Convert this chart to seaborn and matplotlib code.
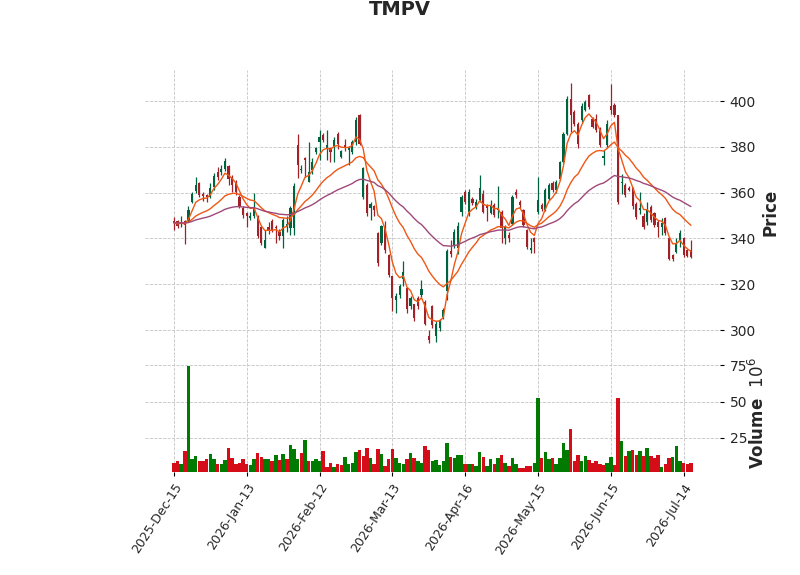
import numpy as np
import pandas as pd
import matplotlib
matplotlib.use("Agg")
import matplotlib.pyplot as plt
import seaborn as sns
from matplotlib.ticker import MultipleLocator

# ------------------------------------------------------------------
# DATA (prices in $, volume in millions)
# ------------------------------------------------------------------
ticker = "TMPV"
tick_labels = ["2025-Dec-15", "2026-Jan-13", "2026-Feb-12", "2026-Mar-13",
               "2026-Apr-16", "2026-May-15", "2026-Jun-15", "2026-Jul-14"]

opens = [347.5, 347.4, 346.2, 347.4, 347.8, 356.0, 360.7, 364.0, 359.4, 358.8,
         358.3, 362.3, 369.1, 368.8, 370.1, 371.6, 367.0, 364.0, 358.3, 353.2,
         351.0, 348.8, 349.6, 349.6, 345.2, 335.8, 345.2, 347.4, 345.2, 343.0,
         340.9, 345.2, 344.5, 344.5, 381.0, 370.0, 375.2, 364.8, 369.9, 377.8,
         382.2, 385.0, 379.3, 379.3, 380.0, 385.5, 375.7, 380.7, 378.6, 377.8,
         382.2, 393.8, 358.3, 363.3, 353.2, 354.2, 342.3, 338.0, 345.2, 332.6,
         323.5, 313.3, 315.5, 322.3, 318.4, 310.4, 311.2, 314.1, 315.2, 312.3,
         297.5, 310.4, 297.3, 300.7, 305.8, 317.0, 334.6, 337.0, 335.7, 351.7,
         360.4, 351.7, 357.2, 353.8, 356.7, 359.6, 354.6, 351.0, 354.6, 352.5,
         351.7, 340.0, 341.7, 346.5, 360.3, 355.7, 352.3, 343.6, 334.9, 340.0,
         351.6, 354.8, 352.6, 357.4, 364.0, 361.0, 366.0, 373.4, 385.8, 401.0,
         395.2, 390.0, 391.6, 396.0, 402.5, 392.3, 392.0, 388.0, 374.9, 380.7,
         398.0, 398.4, 393.8, 364.0, 363.5, 362.2, 361.8, 355.2, 352.3, 350.0,
         347.2, 353.8, 350.9, 347.2, 345.0, 348.7, 340.0, 332.7, 334.2, 339.2,
         340.0, 335.0, 334.9]

highs = [349.5, 348.0, 349.8, 348.0, 354.0, 360.4, 366.7, 364.8, 360.4, 359.5,
         364.0, 368.5, 371.0, 372.0, 374.9, 372.0, 367.7, 365.5, 359.0, 354.0,
         351.7, 351.7, 359.7, 350.3, 345.5, 343.8, 347.0, 348.4, 346.0, 344.0,
         349.0, 349.6, 354.0, 364.3, 385.8, 372.0, 375.7, 382.2, 375.0, 380.0,
         387.2, 386.0, 387.5, 380.0, 384.3, 386.5, 378.8, 383.6, 380.5, 383.0,
         393.0, 394.5, 371.0, 364.0, 356.1, 354.6, 343.0, 346.0, 347.4, 333.0,
         323.5, 316.2, 320.0, 330.0, 319.0, 315.0, 311.5, 315.0, 322.0, 313.0,
         300.0, 311.0, 304.0, 305.0, 309.5, 335.5, 339.3, 344.0, 347.0, 359.0,
         361.0, 361.5, 358.0, 357.0, 367.6, 361.0, 355.0, 356.7, 355.5, 362.9,
         352.5, 346.0, 343.0, 359.0, 361.7, 356.7, 353.0, 344.0, 340.0, 340.5,
         366.9, 355.5, 362.0, 364.0, 365.0, 365.5, 374.0, 386.5, 402.0, 407.8,
         396.0, 391.0, 399.0, 400.5, 403.2, 393.0, 394.5, 388.5, 378.5, 391.5,
         407.6, 399.0, 394.0, 368.3, 364.0, 362.8, 362.5, 356.0, 360.3, 351.0,
         356.0, 354.5, 351.5, 348.0, 348.7, 349.4, 340.5, 333.2, 340.0, 343.7,
         340.5, 335.5, 339.4]

lows = [343.5, 344.5, 344.8, 337.5, 347.0, 355.4, 359.7, 358.3, 356.5, 356.0,
        357.5, 361.0, 365.5, 367.5, 369.6, 363.3, 360.4, 359.0, 353.2, 348.8,
        345.2, 348.1, 349.0, 340.1, 337.2, 335.8, 342.0, 342.6, 338.0, 339.5,
        335.8, 343.0, 341.6, 341.6, 366.2, 368.7, 367.0, 364.8, 368.0, 377.0,
        374.2, 382.0, 374.2, 373.5, 373.5, 379.0, 375.0, 378.0, 372.0, 377.0,
        381.0, 380.7, 357.0, 350.0, 348.1, 349.6, 328.0, 337.0, 333.6, 323.0,
        308.3, 307.5, 314.0, 319.1, 307.5, 309.0, 303.9, 309.0, 314.5, 302.0,
        294.3, 301.0, 294.8, 299.5, 305.0, 313.0, 332.0, 336.0, 333.0, 350.0,
        355.0, 350.0, 354.5, 353.0, 356.0, 351.0, 347.8, 350.5, 349.5, 349.0,
        337.9, 337.5, 338.5, 346.0, 357.5, 353.2, 345.0, 335.5, 333.5, 333.6,
        350.8, 352.0, 352.0, 356.7, 360.3, 360.0, 365.5, 373.0, 385.0, 386.4,
        389.0, 379.3, 391.0, 395.5, 396.5, 388.0, 386.5, 380.0, 372.0, 380.0,
        394.5, 393.0, 355.2, 359.6, 358.0, 360.5, 353.0, 348.5, 350.5, 344.2,
        345.7, 347.2, 345.0, 340.7, 341.6, 341.5, 330.6, 330.3, 333.5, 336.3,
        332.0, 332.0, 331.5]

closes = [346.8, 345.5, 347.2, 345.7, 352.5, 359.3, 363.3, 359.0, 358.6, 358.0,
          361.9, 367.4, 367.0, 370.3, 373.8, 365.8, 363.3, 360.4, 353.9, 350.3,
          349.6, 349.8, 353.9, 340.9, 338.0, 339.4, 343.8, 343.5, 344.5, 340.9,
          348.1, 346.5, 353.2, 362.9, 372.0, 370.5, 374.1, 369.1, 373.5, 379.3,
          384.3, 382.9, 380.7, 377.8, 382.9, 381.4, 378.3, 379.3, 380.0, 382.2,
          391.6, 381.4, 370.6, 351.0, 355.1, 352.2, 329.3, 345.5, 335.1, 324.2,
          314.1, 314.8, 319.1, 325.2, 309.0, 314.1, 305.4, 310.4, 317.7, 302.8,
          295.8, 302.0, 302.8, 304.3, 308.7, 334.5, 333.0, 343.0, 345.4, 358.0,
          356.0, 360.4, 355.6, 356.0, 361.8, 351.7, 353.2, 354.6, 350.2, 353.3,
          344.4, 345.0, 340.0, 358.0, 358.9, 354.5, 345.8, 336.3, 336.0, 338.5,
          356.7, 353.0, 361.0, 363.2, 361.3, 364.7, 373.4, 385.8, 401.0, 393.8,
          390.0, 381.4, 398.0, 399.6, 397.4, 388.7, 387.2, 380.7, 375.9, 390.0,
          396.0, 393.8, 356.0, 364.7, 358.9, 361.3, 354.0, 349.4, 353.3, 345.0,
          352.3, 348.0, 345.8, 345.0, 346.8, 342.2, 331.2, 331.2, 337.8, 342.2,
          332.7, 332.4, 332.0]

volumes = [7.6, 8.6, 6.9, 15.6, 74.8, 10.4, 12.1, 9.0, 8.6, 10.0,
           13.5, 10.4, 7.2, 7.2, 9.3, 17.7, 10.7, 7.2, 7.9, 10.0,
           7.2, 6.5, 10.4, 14.2, 11.4, 10.0, 10.4, 8.6, 12.8, 9.3,
           13.5, 10.0, 19.8, 17.0, 10.0, 14.2, 23.4, 8.6, 8.6, 10.4,
           8.6, 15.6, 5.0, 7.9, 5.0, 7.2, 6.5, 11.4, 7.2, 7.9,
           14.9, 16.3, 12.1, 17.7, 10.7, 7.2, 17.0, 13.5, 5.8, 10.0,
           17.0, 10.7, 7.9, 7.2, 10.0, 14.2, 10.7, 8.6, 7.9, 19.1,
           16.3, 8.6, 9.3, 6.5, 8.6, 21.2, 11.4, 10.7, 12.8, 12.8,
           7.2, 7.2, 7.2, 5.8, 14.9, 11.4, 5.8, 10.0, 7.2, 10.7,
           12.8, 7.9, 5.8, 10.7, 7.2, 4.3, 4.3, 5.8, 5.8, 7.9,
           52.2, 10.7, 14.9, 10.0, 10.7, 7.2, 10.7, 21.2, 16.3, 31.1,
           8.6, 12.8, 8.6, 12.1, 9.3, 7.9, 8.6, 7.2, 6.5, 7.9,
           11.4, 6.5, 52.2, 22.7, 12.1, 15.6, 16.3, 12.8, 15.6, 12.1,
           17.7, 12.1, 10.7, 12.8, 5.0, 7.2, 10.7, 11.4, 19.1, 8.6,
           7.9, 7.2, 7.9]

ema_spans = [5, 20, 50]

# ------------------------------------------------------------------
# STYLE
# ------------------------------------------------------------------
UP, DOWN = "#006340", "#a02128"
VOL_UP, VOL_DOWN = "#007a00", "#d50d18"
MA_COLORS = ["#ef5714", "#ef5714", "#9f4878"]
GRID = dict(linestyle="--", color="#c4c4c4", linewidth=0.6)

sns.set_theme(style="white")
plt.rcParams["font.family"] = ["DejaVu Sans"]

df = pd.DataFrame({"Open": opens, "High": highs, "Low": lows,
                   "Close": closes, "Volume": volumes})
df["idx"] = np.arange(len(df))
df["up"] = df["Close"] >= df["Open"]
# volume colour follows close vs previous close
df["vol_up"] = df["Close"] >= df["Close"].shift(1).fillna(df["Open"])
for s in ema_spans:
    df[f"ema{s}"] = df["Close"].ewm(span=s, adjust=False).mean()

fig = plt.figure(figsize=(8, 5.75), dpi=100)
ax_p = fig.add_axes([0.181, 0.383, 0.719, 0.495])
ax_v = fig.add_axes([0.181, 0.179, 0.719, 0.204])

# --- candles ---
c = np.where(df["up"], UP, DOWN)
ax_p.vlines(df["idx"], df["Low"], df["High"], colors=c, linewidth=0.9, zorder=2)
body_lo = np.minimum(df["Open"], df["Close"])
body_h = np.maximum((df["Close"] - df["Open"]).abs(), 0.3)
ax_p.bar(df["idx"], body_h, bottom=body_lo, width=0.6, color=c, linewidth=0, zorder=3)

# --- moving averages ---
for s, col in zip(ema_spans, MA_COLORS):
    sns.lineplot(data=df, x="idx", y=f"ema{s}", color=col, linewidth=1.0, ax=ax_p, zorder=4)

# --- volume ---
sns.barplot(data=df, x="idx", y="Volume", hue="vol_up",
            palette={True: VOL_UP, False: VOL_DOWN}, saturation=1, dodge=False,
            native_scale=True, width=0.95, errorbar=None, legend=False,
            linewidth=0, ax=ax_v)

rng = df["High"].max() - df["Low"].min()
ax_p.set_ylim(df["Low"].min() - 0.045 * rng, df["High"].max() + 0.05 * rng)
ax_v.set_ylim(0.3 * df["Volume"].min(), 1.1 * df["Volume"].max())

ticks = np.arange(0, len(df), 20)
for ax in (ax_p, ax_v):
    ax.set_xlim(-8, 150)
    ax.set_xticks(ticks)
    ax.grid(True, **GRID)
    ax.set_axisbelow(True)
    for sp in ax.spines.values():
        sp.set_visible(False)
    ax.yaxis.tick_right()
    ax.tick_params(axis="y", which="both", length=3, width=0.8, color="black",
                   labelsize=10, pad=4, left=False, right=True)
    ax.set_xlabel("")

ax_p.yaxis.set_major_locator(MultipleLocator(20))
ax_v.yaxis.set_major_locator(MultipleLocator(25))
ax_p.tick_params(axis="x", bottom=False, labelbottom=False)
ax_v.tick_params(axis="x", bottom=True, length=3, width=0.8, color="black", labelsize=9)
ax_v.set_xticklabels(tick_labels, rotation=57, rotation_mode="anchor", va="top")
for lab in ax_v.get_xticklabels():
    lab.set_horizontalalignment("right")

ax_p.set_ylabel("Price", fontsize=12, fontweight="bold", rotation=90)
ax_p.yaxis.set_label_position("right")
ax_p.yaxis.set_label_coords(1.073, 0.5)
ax_v.set_ylabel("Volume  $10^{6}$", fontsize=12, fontweight="bold", rotation=90)
ax_v.yaxis.set_label_position("right")
ax_v.yaxis.set_label_coords(1.049, 0.5)

fig.text(0.5, 0.983, ticker, ha="center", va="center", fontsize=14, fontweight="bold")

fig.savefig("out.png", dpi=100)
